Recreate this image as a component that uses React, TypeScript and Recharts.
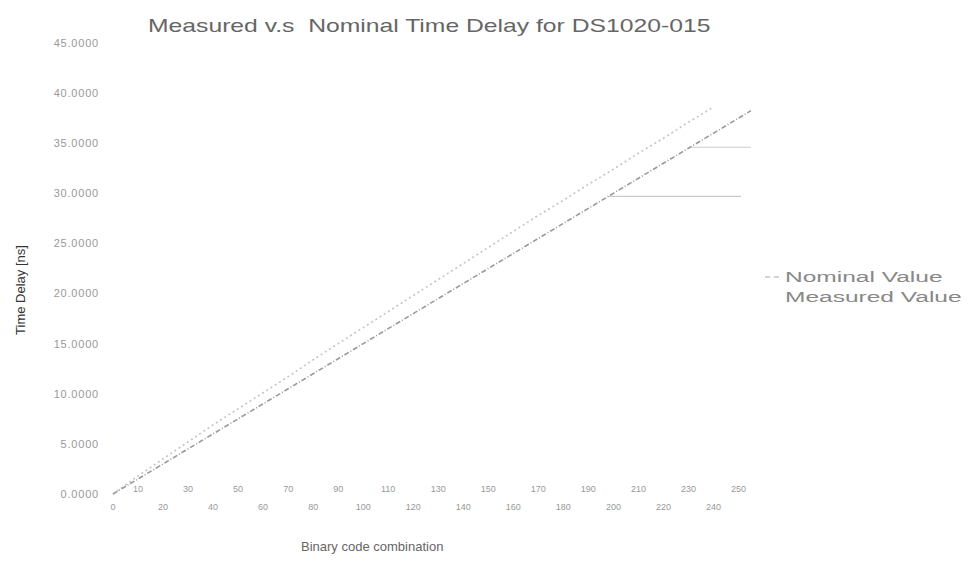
import { LineChart, Line, XAxis, YAxis, ReferenceLine } from "recharts";

const codes = [0, 10, 20, 30, 40, 50, 60, 70, 80, 90, 100, 110, 120, 130, 140, 150, 160, 170, 180, 190, 200, 210, 220, 230, 240, 250, 255];
const nominal = [0, 1.5, 3.0, 4.5, 6.0, 7.5, 9.0, 10.5, 12.0, 13.5, 15.0, 16.5, 18.0, 19.5, 21.0, 22.5, 24.0, 25.5, 27.0, 28.5, 30.0, 31.5, 33.0, 34.5, 36.0, 37.5, 38.25];
const measured = [0, 1.8, 3.5, 5.2, 6.9, 8.5, 10.1, 11.7, 13.4, 15.0, 16.6, 18.2, 19.8, 21.4, 23.0, 24.6, 26.2, 27.8, 29.3, 30.9, 32.4, 34.0, 35.5, 37.1, 38.6, null, null];
const xTicks = [0, 10, 20, 30, 40, 50, 60, 70, 80, 90, 100, 110, 120, 130, 140, 150, 160, 170, 180, 190, 200, 210, 220, 230, 240, 250];
const yTicks = [0, 5, 10, 15, 20, 25, 30, 35, 40, 45];
// horizontal marker lines on the right: [value, fromCode, toCode]
const markers: [number, number, number][] = [
  [29.7, 198, 251],
  [34.6, 231, 255],
];

const data = codes.map((c, i) => ({ code: c, nominal: nominal[i], measured: measured[i] }));

const font = "Arial, 'Liberation Sans', sans-serif";

function StaggerTick(props: any) {
  const { x, y, payload, index } = props;
  const upper = index % 2 === 1;
  return (
    <text x={x} y={upper ? y - 10 : y + 8} textAnchor="middle" fontSize={9} fill="#999" fontFamily={font}>
      {payload.value}
    </text>
  );
}

export default function App() {
  return (
    <div style={{ position: "relative", width: 957, height: 561, fontFamily: font, background: "#fff" }}>
      <div
        style={{
          position: "absolute",
          left: 140,
          top: 7,
          fontSize: 19,
          color: "#666",
          whiteSpace: "nowrap",
          transform: "scaleX(1.3)",
          transformOrigin: "left top",
        }}
      >
        Measured v.s&nbsp; Nominal Time Delay for DS1020-015
      </div>
      <div
        style={{
          position: "absolute",
          left: 12,
          top: 282,
          transform: "translate(-50%, -50%) rotate(-90deg)",
          fontSize: 13,
          color: "#333",
          whiteSpace: "nowrap",
        }}
      >
        Time Delay [ns]
      </div>
      <div style={{ position: "absolute", left: 293, top: 531, fontSize: 13, color: "#666" }}>
        Binary code combination
      </div>
      <div style={{ position: "absolute", left: 757, top: 259, fontSize: 14, color: "#888", lineHeight: "20px" }}>
        <div style={{ display: "flex", alignItems: "center" }}>
          <span style={{ display: "inline-block", width: 14, borderTop: "2px dashed #d4d4d4", marginRight: 6 }} />
          <span style={{ display: "inline-block", transform: "scaleX(1.75)", transformOrigin: "left center", whiteSpace: "nowrap" }}>
            Nominal Value
          </span>
        </div>
        <div style={{ display: "flex", alignItems: "center" }}>
          <span style={{ display: "inline-block", width: 14, marginRight: 6 }} />
          <span style={{ display: "inline-block", transform: "scaleX(1.75)", transformOrigin: "left center", whiteSpace: "nowrap" }}>
            Measured Value
          </span>
        </div>
      </div>
      <LineChart width={957} height={561} data={data} margin={{ top: 35, right: 214, bottom: 45, left: 0 }}>
        <XAxis
          dataKey="code"
          type="number"
          domain={[0, 255]}
          ticks={xTicks}
          interval={0}
          axisLine={false}
          tickLine={false}
          height={30}
          tick={<StaggerTick />}
        />
        <YAxis
          type="number"
          domain={[0, 45]}
          ticks={yTicks}
          width={105}
          axisLine={false}
          tickLine={false}
          tickSize={0}
          tickMargin={14}
          tickFormatter={(v: number) => v.toFixed(4)}
          tick={{ fontSize: 11, fill: "#999", fontFamily: font, letterSpacing: 0.8 }}
        />
        {markers.map(([v, a, b], i) => (
          <ReferenceLine
            key={i}
            segment={[
              { x: a, y: v },
              { x: b, y: v },
            ]}
            stroke="#ccc"
            strokeWidth={1.2}
            ifOverflow="visible"
          />
        ))}
        <Line
          dataKey="measured"
          stroke="#c4c4c4"
          strokeWidth={1.6}
          strokeDasharray="2 3"
          dot={false}
          isAnimationActive={false}
          connectNulls={false}
        />
        <Line
          dataKey="nominal"
          stroke="#9a9a9a"
          strokeWidth={1.6}
          strokeDasharray="5 2 1 2"
          dot={false}
          isAnimationActive={false}
        />
      </LineChart>
    </div>
  );
}
